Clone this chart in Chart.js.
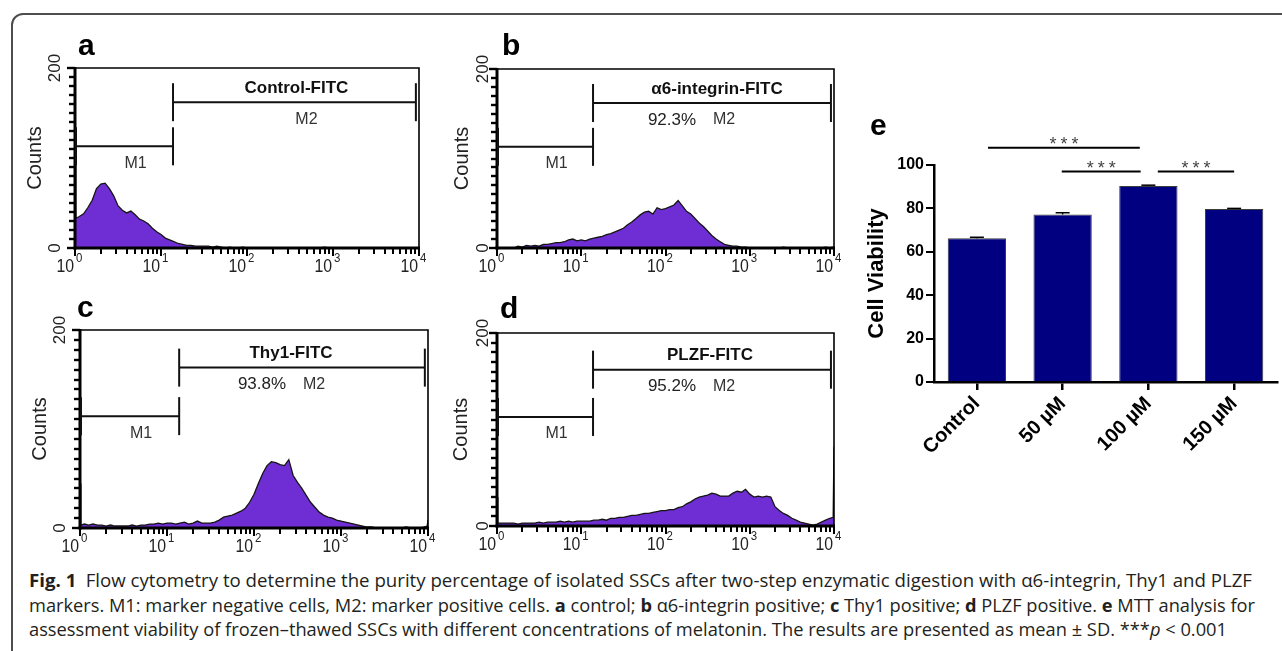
<!DOCTYPE html>
<html><head><meta charset="utf-8"><title>Fig. 1</title>
<script src="https://cdn.jsdelivr.net/npm/chart.js@4.4.1/dist/chart.umd.min.js"></script>
<style>
html,body{margin:0;padding:0;background:#fff;}
body{position:relative;width:1282px;height:651px;overflow:hidden;}
#frame{position:absolute;left:11px;top:13px;width:1340px;height:720px;border:2px solid #4d4d4d;border-radius:12px;box-sizing:border-box;}
canvas{position:absolute;}
.letter{position:absolute;font:bold 30px "Liberation Sans",Arial,sans-serif;line-height:30px;color:#000;}
.cap{position:absolute;left:29px;white-space:nowrap;font:18px "Open Sans",sans-serif;line-height:18px;color:#231f20;transform-origin:0 0;}
</style></head>
<body>
<div id="frame"></div>
<canvas id="histA" width="430" height="270" style="left:0px;top:20px"></canvas>
<canvas id="histB" width="420" height="270" style="left:440px;top:20px"></canvas>
<canvas id="histC" width="440" height="280" style="left:0px;top:282px"></canvas>
<canvas id="histD" width="420" height="280" style="left:440px;top:282px"></canvas>
<canvas id="barE" width="422" height="400" style="left:860px;top:100px"></canvas>
<div class="letter" style="left:78px;top:30px">a</div>
<div class="letter" style="left:502px;top:30px">b</div>
<div class="letter" style="left:77px;top:292px">c</div>
<div class="letter" style="left:500px;top:293px">d</div>
<div class="letter" style="left:870px;top:110px">e</div>
<div class="cap" data-w="1223" style="top:571px"><b>Fig. 1</b>&ensp;Flow cytometry to determine the purity percentage of isolated SSCs after two-step enzymatic digestion with α6-integrin, Thy1 and PLZF</div>
<div class="cap" data-w="1226" style="top:596px">markers. M1: marker negative cells, M2: marker positive cells. <b>a</b> control; <b>b</b> α6-integrin positive; <b>c</b> Thy1 positive; <b>d</b> PLZF positive. <b>e</b> MTT analysis for</div>
<div class="cap" data-w="1198" style="top:620px">assessment viability of frozen–thawed SSCs with different concentrations of melatonin. The results are presented as mean ± SD. ***<i>p</i> &lt; 0.001</div>
<script>
// ---------- data ----------
// histogram channel positions (log10 of fluorescence)
const histExp = [0, 0.01,
  0.05,0.10,0.15,0.20,0.25,0.30,0.35,0.40,0.45,0.50,0.55,0.60,0.65,0.70,0.75,0.80,0.85,0.90,0.95,1.00,
  1.05,1.10,1.15,1.20,1.25,1.30,1.35,1.40,1.45,1.50,1.55,1.60,1.65,1.70,1.75,1.80,1.85,1.90,1.95,2.00,
  2.05,2.10,2.15,2.20,2.25,2.30,2.35,2.40,2.45,2.50,2.55,2.60,2.65,2.70,2.75,2.80,2.85,2.90,2.95,3.00,
  3.05,3.10,3.15,3.20,3.25,3.30,3.35,3.40,3.45,3.50,3.55,3.60,3.65,3.70,3.75,3.80,3.85,3.90,3.95,
  3.99, 4.00];
const countsControl = [118, 33,
  35,38,45,53,66,71,72,66,58,47,42,39,41,37,32,30,27,22,18,15,
  11,9,7,5,4,3,3,2,2,2,2,1,2,1,0,1,0,0,1,0,
  0,0,0,0,0,0,0,0,0,0,0,0,0,0,0,0,0,1,0,0,
  0,0,0,0,0,0,0,0,0,0,0,0,0,0,0,0,0,0,0,
  0,0];
const countsAlpha6 = [0, 0,
  0,0,0,0,2,1,3,2,3,2,4,4,5,6,6,7,9,10,8,9,
  8,10,11,12,13,15,16,18,20,22,26,29,33,37,40,41,38,45,43,44,
  46,48,53,47,41,38,33,28,24,19,14,10,7,4,3,2,2,1,1,0,
  0,0,0,0,0,0,0,1,0,0,0,0,0,0,0,0,0,1,0,
  1,1];
const countsThy1 = [45, 3,
  4,3,4,3,3,2,3,2,2,2,2,3,2,3,3,4,4,5,4,5,
  5,4,5,6,4,5,7,5,5,5,6,8,11,12,13,15,17,20,26,34,
  45,55,63,67,66,64,63,69,53,46,40,33,26,21,16,13,11,10,8,7,
  6,5,4,3,2,1,1,0,0,0,0,0,0,0,1,0,0,0,1,
  2,8];
const countsPLZF = [30, 3,
  3,3,3,3,2,3,3,3,3,4,3,4,4,4,5,4,5,4,5,5,
  5,5,6,6,7,6,8,8,9,9,10,11,11,12,13,13,14,15,16,16,
  17,17,19,20,23,25,28,30,31,32,34,33,31,31,31,34,36,35,38,33,
  30,31,30,31,30,20,16,13,11,8,6,4,3,2,1,2,4,6,8,
  9,82];
const fitcLabels = ['Control-FITC', 'α6-integrin-FITC', 'Thy1-FITC', 'PLZF-FITC'];
const positivePct = ['', '92.3%', '93.8%', '95.2%'];
const markerGates = [1, 13.8, 9200];   // M1: 1–13.8, M2: 13.8–9200
const markerLevels = [113, 162];       // counts level of M1 / M2 bars
const xDecades = [1, 10, 100, 1000, 10000];
const xDecadeExp = ['0', '1', '2', '3', '4'];
const minorSteps = [2, 3, 4, 5, 6, 7, 8, 9];
const yHistTicks = [0, 200];

const groups = ['Control', '50 µM', '100 µM', '150 µM'];
const viabilityMean = [66.2, 77.2, 90.3, 79.7];
const viabilitySD = [0.5, 0.8, 0.4, 0.3];
const sigFrom = [0.13, 0.99, 2.11];
const sigTo = [1.90, 1.91, 3.00];
const sigLevel = [108, 97, 97];
const sigText = ['***', '***', '***'];

// ---------- styling ----------
const FAM = '"Liberation Sans", Arial, Helvetica, sans-serif';
const PURPLE = '#6e2ed3';
Chart.defaults.font.family = FAM;

const logTicks = [];
xDecades.slice(0, 4).forEach(d => { logTicks.push(d); minorSteps.forEach(m => logTicks.push(d * m)); });
logTicks.push(xDecades[4]);

function seg(ctx, x0, y0, x1, y1) { ctx.beginPath(); ctx.moveTo(x0, y0); ctx.lineTo(x1, y1); ctx.stroke(); }

const flowPlugin = {
  id: 'flowDecor',
  afterDraw(chart, args, o) {
    const {ctx, chartArea: ca, scales: {x, y}} = chart;
    ctx.save();
    ctx.lineCap = 'butt';
    // plot frame (top/right)
    ctx.strokeStyle = '#000'; ctx.lineWidth = 1.6;
    ctx.beginPath(); ctx.moveTo(ca.left, ca.top); ctx.lineTo(ca.right, ca.top); ctx.lineTo(ca.right, ca.bottom); ctx.stroke();
    // axis tick marks from the scales' ticks
    ctx.lineWidth = 2;
    x.ticks.forEach(t => {
      const px = Math.round(x.getPixelForValue(t.value));
      seg(ctx, px, ca.bottom, px, ca.bottom + (t.major ? 8 : 6));
    });
    ctx.lineWidth = 2.4;
    y.ticks.forEach(t => {
      const py = Math.round(y.getPixelForValue(t.value));
      seg(ctx, ca.left, py, ca.left - (yHistTicks.includes(t.value) ? 8 : 6), py);
    });
    // axes lines
    ctx.lineWidth = 3;
    seg(ctx, ca.left, ca.top - 1, ca.left, ca.bottom + 1.5);
    seg(ctx, ca.left - 1.5, ca.bottom, ca.right + 1, ca.bottom);
    // markers
    const xl = x.getPixelForValue(markerGates[0]) + 1, xg = x.getPixelForValue(markerGates[1]), xr = x.getPixelForValue(markerGates[2]);
    const y1 = y.getPixelForValue(markerLevels[0]), y2 = y.getPixelForValue(markerLevels[1]);
    ctx.strokeStyle = '#111'; ctx.lineWidth = 2;
    seg(ctx, xl, y1, xg, y1); seg(ctx, xl, y1 - 19, xl, y1 + 19); seg(ctx, xg, y1 - 19, xg, y1 + 19);
    seg(ctx, xg, y2, xr, y2); seg(ctx, xg, y2 - 19, xg, y2 + 19); seg(ctx, xr, y2 - 19, xr, y2 + 19);
    ctx.textBaseline = 'middle'; ctx.textAlign = 'center';
    const m1 = (xl + xg) / 2, m2 = (xg + xr) / 2;
    ctx.fillStyle = '#333'; ctx.font = '16px ' + FAM;
    ctx.fillText('M1', m1 + 11, y1 + 17);
    ctx.fillText('M2', m2 + 12, y2 + 17);
    if (positivePct[o.idx]) { ctx.fillStyle = '#222'; ctx.font = '17px ' + FAM; ctx.fillText(positivePct[o.idx], m2 - 40, y2 + 17); }
    ctx.fillStyle = '#111'; ctx.font = 'bold 17px ' + FAM;
    ctx.fillText(fitcLabels[o.idx], m2 + o.tdx, y2 - 14);
    // decade labels 10^n
    ctx.fillStyle = '#222'; ctx.textBaseline = 'alphabetic';
    xDecades.forEach((v, k) => {
      const px = x.getPixelForValue(v);
      ctx.save(); ctx.translate(px, ca.bottom + 24); ctx.scale(0.88, 1);
      ctx.font = '18px ' + FAM; ctx.textAlign = 'right'; ctx.fillText('10', -1, 0);
      ctx.font = '13px ' + FAM; ctx.textAlign = 'left'; ctx.fillText(xDecadeExp[k], 1, -10);
      ctx.restore();
    });
    ctx.restore();
  }
};

function makeHist(id, counts, cfg) {
  const pts = histExp.map((e, i) => ({x: Math.pow(10, e), y: counts[i]}));
  return new Chart(document.getElementById(id), {
    type: 'line',
    data: {datasets: [{data: pts, fill: 'origin', backgroundColor: PURPLE, borderColor: '#151515', borderWidth: 1.3, pointRadius: 0, tension: 0}]},
    options: {
      responsive: false, animation: false, devicePixelRatio: 1,
      layout: {padding: cfg.pad},
      plugins: {legend: {display: false}, tooltip: {enabled: false}, flowDecor: cfg},
      scales: {
        x: {type: 'logarithmic', min: 1, max: 10000,
            afterBuildTicks: s => { s.ticks = logTicks.map(v => ({value: v, major: xDecades.includes(v)})); },
            afterFit: s => { s.height = cfg.hx; },
            ticks: {display: false},
            grid: {drawOnChartArea: false, drawTicks: true, tickLength: 5, color: 'rgba(0,0,0,0)'},
            border: {display: false}},
        y: {min: 0, max: 200,
            afterFit: s => { s.width = cfg.wy; },
            ticks: {stepSize: 10, autoSkip: false, minRotation: 90, maxRotation: 90, crossAlign: 'center', padding: cfg.ytp,
                    font: {size: 17}, color: '#222', callback: v => yHistTicks.includes(v) ? String(v) : ''},
            grid: {drawOnChartArea: false, drawTicks: true, tickLength: 5, color: 'rgba(0,0,0,0)'},
            border: {display: false},
            title: {display: true, text: 'Counts', font: {size: 20}, color: '#222', padding: {top: cfg.tp, bottom: 0}}}
      }
    },
    plugins: [flowPlugin]
  });
}

makeHist('histA', countsControl, {idx: 0, tdx: 2, wy: 75, hx: 42, pad: {left: 0, top: 48, right: 11, bottom: 0}, ytp: 1, tp: 23});
makeHist('histB', countsAlpha6, {idx: 1, tdx: 5, wy: 57, hx: 42, pad: {left: 0, top: 49, right: 26, bottom: 0}, ytp: -5, tp: 10});
makeHist('histC', countsThy1, {idx: 2, tdx: -11, wy: 80, hx: 34, pad: {left: 0, top: 48, right: 12, bottom: 0}, ytp: 1, tp: 28});
makeHist('histD', countsPLZF, {idx: 3, tdx: -2, wy: 57, hx: 36, pad: {left: 0, top: 51, right: 26, bottom: 0}, ytp: -5, tp: 9});

const barPlugin = {
  id: 'barDecor',
  afterDatasetsDraw(chart) {
    const {ctx, scales: {x, y}} = chart;
    ctx.save();
    ctx.strokeStyle = '#000'; ctx.lineWidth = 1.5;
    viabilityMean.forEach((m, i) => {
      const px = x.getPixelForValue(i), top = y.getPixelForValue(m + viabilitySD[i]), base = y.getPixelForValue(m);
      seg(ctx, px, base, px, top); seg(ctx, px - 7, top, px + 7, top);
    });
    ctx.lineWidth = 2;
    sigFrom.forEach((f, i) => {
      const x0 = x.getPixelForValue(f), x1 = x.getPixelForValue(sigTo[i]), py = y.getPixelForValue(sigLevel[i]);
      seg(ctx, x0, py, x1, py);
      ctx.font = '18px ' + FAM; ctx.fillStyle = '#444'; ctx.textAlign = 'center'; ctx.textBaseline = 'alphabetic';
      ctx.letterSpacing = '4px';
      ctx.fillText(sigText[i], (x0 + x1) / 2 + 2, py + 2);
      ctx.letterSpacing = '0px';
    });
    ctx.restore();
  }
};

new Chart(document.getElementById('barE'), {
  type: 'bar',
  data: {labels: groups, datasets: [{data: viabilityMean, backgroundColor: '#000080', borderColor: '#3c3c3c', borderWidth: 1, barPercentage: 0.68, categoryPercentage: 1}]},
  options: {
    responsive: false, animation: false, devicePixelRatio: 1,
    layout: {padding: {left: 0, top: 65, right: 5, bottom: 0}},
    plugins: {legend: {display: false}, tooltip: {enabled: false}},
    scales: {
      x: {afterFit: s => { s.height = 118; },
          ticks: {minRotation: 45, maxRotation: 45, autoSkip: false, padding: 2, color: '#000', font: {size: 20, weight: 'bold'}},
          grid: {drawOnChartArea: false, offset: false, drawTicks: true, tickLength: 8, color: '#000', lineWidth: 2.5},
          border: {display: true, color: '#000', width: 2.5}},
      y: {min: 0, max: 100,
          afterFit: s => { s.width = 74; },
          ticks: {stepSize: 20, padding: 2, color: '#000', font: {size: 16, weight: 'bold'}},
          grid: {drawOnChartArea: false, drawTicks: true, tickLength: 8, color: '#000', lineWidth: 2},
          border: {display: true, color: '#000', width: 2.5},
          title: {display: true, text: 'Cell Viability', color: '#000', font: {size: 22, weight: 'bold'}, padding: {top: 4, bottom: 0}}}
    }
  },
  plugins: [barPlugin]
});

function fitCaption() {
  document.querySelectorAll('.cap').forEach(el => {
    el.style.transform = 'none';
    const w = el.getBoundingClientRect().width;
    el.style.transform = 'scaleX(' + (+el.dataset.w / w) + ')';
  });
}
fitCaption();
if (document.fonts && document.fonts.ready) document.fonts.ready.then(fitCaption);
</script>
</body></html>
